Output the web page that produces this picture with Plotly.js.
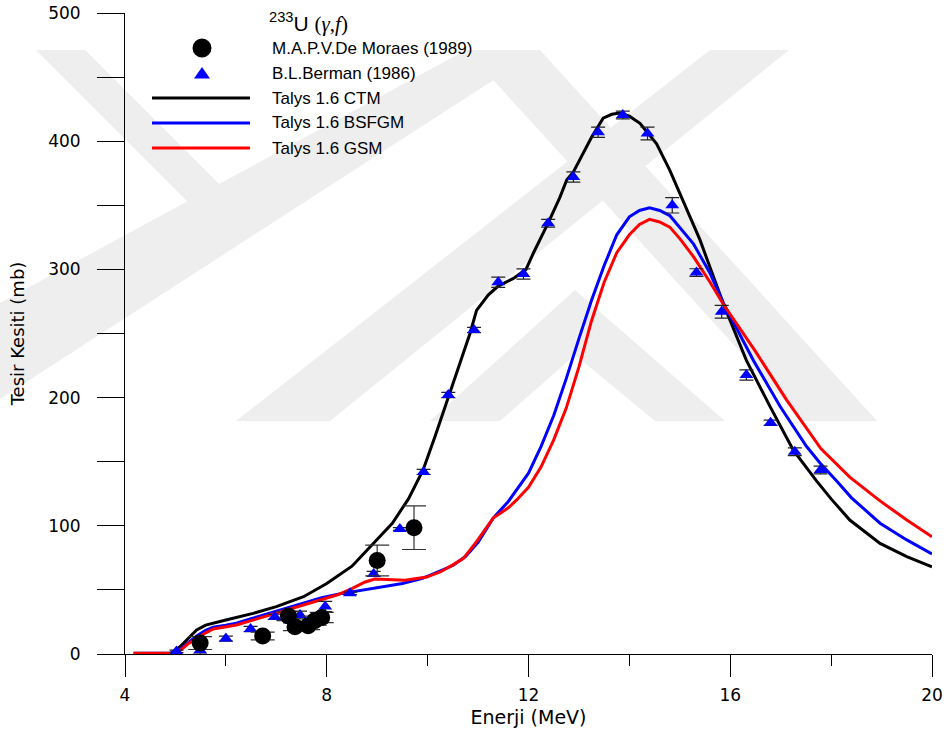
<!DOCTYPE html>
<html><head><meta charset="utf-8">
<script src="https://cdn.plot.ly/plotly-3.0.1.min.js"></script>
<style>html,body{margin:0;padding:0;background:#fff;}</style>
</head><body><div id="chart" style="width:949px;height:730px;"></div>
<script>
// ---- data ----
const ctmE = [4.2, 4.9, 5.09, 5.25, 5.42, 5.6, 5.82, 6.0, 6.54, 7.0, 7.54, 8.0, 8.5, 8.92, 9.3, 9.62, 9.91, 10.15, 10.41, 10.65, 10.84, 10.97, 11.2, 11.4, 11.7, 11.95, 12.1, 12.4, 12.62, 12.76, 12.89, 13.0, 13.25, 13.48, 13.65, 13.81, 14.0, 14.21, 14.54, 14.8, 15.14, 15.4, 15.86, 16.32, 16.79, 17.25, 17.71, 18.0, 18.37, 18.97, 19.5, 20.0];
const ctmV = [0, 0.5, 5.7, 12, 18.7, 22.5, 25, 26.5, 31.7, 37, 44.7, 55, 68.5, 86, 102, 121, 143.5, 170, 201, 228, 250, 268, 280, 287, 293, 300, 313, 337, 356, 370, 376, 384, 403, 418, 421, 422, 419.5, 414, 398, 377.5, 346, 323, 273.5, 229, 193, 159, 135, 121, 104.5, 86.3, 76, 68];

const bsfgmE = [4.17, 4.96, 5.1, 5.25, 5.42, 5.6, 5.75, 6.0, 6.21, 6.5, 6.87, 7.2, 7.54, 7.9, 8.2, 8.5, 9.0, 9.5, 9.9, 10.25, 10.5, 10.75, 11.0, 11.3, 11.6, 12.0, 12.25, 12.5, 12.75, 13.0, 13.25, 13.5, 13.75, 14.0, 14.2, 14.4, 14.6, 14.8, 15.0, 15.27, 15.6, 15.86, 16.46, 16.99, 17.51, 17.78, 18.11, 18.4, 18.97, 19.5, 20.0];
const bsfgmV = [0.5, 0.5, 4, 9, 14, 18.5, 21, 22.5, 24, 27.5, 32, 36, 40, 44, 46.5, 48.5, 51.5, 55, 59, 65, 69, 76, 87, 106, 119, 141, 162, 186, 215, 246, 276, 303, 327, 341, 346, 348, 346, 342, 333, 320, 297, 274, 229, 193, 162, 149, 135, 122, 102, 89, 78];

const gsmE = [4.17, 4.96, 5.1, 5.25, 5.42, 5.6, 5.75, 6.0, 6.21, 6.5, 6.87, 7.2, 7.54, 7.9, 8.2, 8.5, 8.75, 8.95, 9.2, 9.55, 9.98, 10.25, 10.5, 10.71, 10.97, 11.3, 11.6, 11.76, 12.0, 12.25, 12.5, 12.75, 13.0, 13.25, 13.5, 13.75, 14.0, 14.2, 14.4, 14.6, 14.8, 15.0, 15.27, 15.6, 15.86, 16.5, 17.12, 17.35, 17.8, 18.37, 18.95, 19.5, 20.0];
const gsmV = [0.5, 0.5, 3, 8, 12, 16.5, 19.5, 21, 22.6, 26, 30.4, 34, 38, 42.5, 46, 51, 56, 58.5, 58, 57.5, 60, 64, 69.5, 74.6, 87.6, 106, 114, 120, 130, 146, 167, 192, 224, 260, 290, 313, 327, 335, 339, 337, 333, 324, 310, 290, 273, 236, 198, 185, 160, 138, 120, 104.5, 91.5];

const bermanE = [5.02, 5.49, 6.0, 6.49, 6.97, 7.47, 7.97, 8.46, 8.93, 9.45, 9.92, 10.41, 10.92, 11.40, 11.90, 12.39, 12.89, 13.38, 13.87, 14.36, 14.85, 15.33, 15.83, 16.32, 16.80, 17.28, 17.79];
const bermanV = [2, 3, 12, 19.5, 29, 30.4, 37, 47.3, 62.5, 97.5, 142, 202, 252.7, 290, 296.4, 336, 372, 407, 420.4, 406, 350, 297.5, 267, 217.6, 180.4, 157.8, 143.5];
const bermanErr = [1, 3, 2, 2, 2, 3, 4, 1, 2, 1, 2, 2, 2, 4, 4, 3, 4, 4, 3, 5, 6, 3, 5, 4, 2, 3, 3];

const moraesE = [5.49, 6.73, 7.24, 7.37, 7.63, 7.76, 7.9, 9.0, 9.73];
const moraesV = [8.5, 14, 29.6, 21.3, 22, 26, 28.5, 73, 98.5];
const moraesErr = [5, 3, 3.5, 3, 3, 3.5, 4, 12, 17];

const xTicks = [4, 8, 12, 16, 20];
const yTicks = [0, 100, 200, 300, 400, 500];

const legendLabels = ["M.A.P.V.De Moraes (1989)", "B.L.Berman (1986)", "Talys 1.6 CTM", "Talys 1.6 BSFGM", "Talys 1.6 GSM"];
const chartTitle = "<sup>233</sup>U <span style='font-family:\"Liberation Serif\"'>(<i>γ</i>,<i>f</i>)</span>";
const xTitle = "Enerji (MeV)";
const yTitle = "Tesir Kesiti (mb)";

// ---- layout helpers (pixel -> paper) ----
const L = 125, R = 17, T = 13, B = 76, W = 949, H = 730;
const PW = W - L - R, PH = H - T - B;
const fx = x => (x - L) / PW;
const fy = y => (H - B - y) / PH;

function poly(pts, color) {
  let d = pts.map((p, i) => (i ? 'L' : 'M') + fx(p[0]).toFixed(5) + ',' + fy(p[1]).toFixed(5)).join(' ') + ' Z';
  return {type: 'path', xref: 'paper', yref: 'paper', path: d, fillcolor: color, line: {width: 0}, layer: 'below'};
}

const wm = '#eeeeee';
const shapes = [
  poly([[36,50],[85,50],[240,205],[191,205]], wm),
  poly([[0,303],[466,50],[540,50],[0,399]], wm),
  poly([[466,50],[540,50],[877,421],[803,421]], wm),
  poly([[710,50],[789,50],[330,421],[236,421]], wm),
  poly([[430,421],[575,290],[725,421],[655,421],[575,355],[500,421]], wm),
];

// legend symbols
const legX0 = 152, legX1 = 250, legMX = 202;
const rowsY = [48, 73, 98, 123, 148];
shapes.push({type: 'circle', xref: 'paper', yref: 'paper', x0: fx(legMX - 9.5), x1: fx(legMX + 9.5), y0: fy(rowsY[0] + 9.5), y1: fy(rowsY[0] - 9.5), fillcolor: '#000', line: {width: 0}});
shapes.push(poly([[legMX - 8, rowsY[1] + 5.5], [legMX + 8, rowsY[1] + 5.5], [legMX, rowsY[1] - 6]], '#0000ff'));
shapes[shapes.length - 1].layer = 'above';
const lineCols = ['#000000', '#0000ff', '#ff0000'];
for (let i = 0; i < 3; i++) {
  shapes.push({type: 'line', xref: 'paper', yref: 'paper', x0: fx(legX0), x1: fx(legX1), y0: fy(rowsY[i + 2]), y1: fy(rowsY[i + 2]), line: {color: lineCols[i], width: 3}});
}

const annotations = legendLabels.map((t, i) => ({
  text: t, xref: 'paper', yref: 'paper', x: fx(270), y: fy(rowsY[i]), xanchor: 'left', yanchor: 'middle',
  showarrow: false, font: {family: 'Liberation Sans, Arial, sans-serif', size: 17, color: '#000'}
}));
annotations.push({text: chartTitle, xref: 'paper', yref: 'paper', x: fx(267), y: fy(23), xanchor: 'left', yanchor: 'middle',
  showarrow: false, font: {family: 'Liberation Sans, Arial, sans-serif', size: 21, color: '#000'}});

// ---- traces ----
const lineTrace = (x, y, c) => ({x, y, type: 'scatter', mode: 'lines', line: {color: c, width: 3}, showlegend: false, hoverinfo: 'skip'});
const traces = [
  lineTrace(ctmE, ctmV, '#000000'),
  lineTrace(bsfgmE, bsfgmV, '#0000ff'),
  lineTrace(gsmE, gsmV, '#ff0000'),
  {x: bermanE, y: bermanV, type: 'scatter', mode: 'markers', showlegend: false,
   marker: {symbol: 'triangle-up', size: 12, color: '#0000ff'},
   error_y: {type: 'data', array: bermanErr, visible: true, color: '#222', thickness: 1.2, width: 7}},
  {x: moraesE, y: moraesV, type: 'scatter', mode: 'markers', showlegend: false,
   marker: {symbol: 'circle', size: 17, color: '#000'},
   error_y: {type: 'data', array: moraesErr, visible: true, color: '#333', thickness: 1.2, width: 12}},
];

const tickFont = {family: 'DejaVu Sans, Verdana, sans-serif', size: 17, color: '#000'};
const layout = {
  width: W, height: H,
  margin: {l: L, r: R, t: T, b: B, pad: 0},
  paper_bgcolor: '#ffffff', plot_bgcolor: 'rgba(0,0,0,0)',
  showlegend: false,
  xaxis: {range: [4, 20], tickvals: xTicks, ticktext: xTicks.map(String), ticks: 'outside', ticklen: 22, tickwidth: 1, tickcolor: '#000',
    minor: {dtick: 2, tick0: 4, ticks: 'outside', ticklen: 11, tickwidth: 1, tickcolor: '#000', showgrid: false},
    showline: true, linecolor: '#000', linewidth: 1, showgrid: false, zeroline: false,
    tickfont: tickFont, ticklabelstandoff: 4, automargin: false,
    title: {text: xTitle, font: {family: 'DejaVu Sans, Verdana, sans-serif', size: 19, color: '#000'}, standoff: 6}},
  yaxis: {range: [0, 500], tickvals: yTicks, ticktext: yTicks.map(String), ticks: 'outside', ticklen: 27, tickwidth: 1, tickcolor: '#000',
    minor: {dtick: 50, tick0: 0, ticks: 'outside', ticklen: 27, tickwidth: 1, tickcolor: '#000', showgrid: false},
    showline: true, linecolor: '#000', linewidth: 1, showgrid: false, zeroline: false,
    tickfont: tickFont, ticklabelstandoff: 13, automargin: false,
    title: {text: yTitle, font: {family: 'DejaVu Sans, Verdana, sans-serif', size: 18, color: '#000'}, standoff: 18}},
  shapes, annotations
};

Plotly.newPlot('chart', traces, layout, {displayModeBar: false, staticPlot: true});
</script></body></html>
